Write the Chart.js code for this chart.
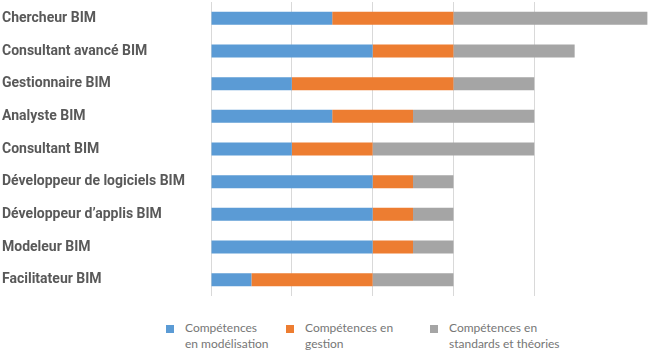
<!DOCTYPE html>
<html>
<head>
<meta charset="utf-8">
<script src="https://cdn.jsdelivr.net/npm/chart.js@4"></script>
<style>
  body { margin: 0; background: #fff; }
  #wrap { position: relative; width: 649px; height: 351px; }
  #box { position: absolute; left: 0; top: 0; width: 649px; height: 300px; }
  .leg { position: absolute; top: 320px; font-family: Lato, "Open Sans", sans-serif; font-size: 12px; line-height: 16px; color: #767676; }
  .leg i { position: absolute; left: -19px; top: 5px; width: 8px; height: 8px; }
</style>
</head>
<body>
<div id="wrap">
  <div id="box"><canvas id="ch1"></canvas></div>
  <div id="legend"></div>
</div>
<script>
// metiers BIM, de haut en bas
var categories = ['Chercheur BIM', 'Consultant avancé BIM', 'Gestionnaire BIM', 'Analyste BIM', 'Consultant BIM',
  'Développeur de logiciels BIM', 'Développeur d\u2019applis BIM', 'Modeleur BIM', 'Facilitateur BIM'];
var modelisation = [1.5, 2, 1, 1.5, 1, 2, 2, 2, 0.5];
var gestion      = [1.5, 1, 2, 1, 1, 0.5, 0.5, 0.5, 1.5];
var standards    = [2.4, 1.5, 1, 1.5, 2, 0.5, 0.5, 0.5, 1];
var seriesNames = [['Compétences', 'en modélisation'], ['Compétences en', 'gestion'], ['Compétences en', 'standards et théories']];
var colors = ['#5B9BD5', '#ED7D31', '#A5A5A5'];
var legendX = [185, 305, 449];

var ctx = document.getElementById('ch1').getContext('2d');
var chart = new Chart(ctx, {
  type: 'bar',
  data: {
    labels: categories,
    datasets: [
      { label: seriesNames[0].join(' '), data: modelisation, backgroundColor: colors[0] },
      { label: seriesNames[1].join(' '), data: gestion, backgroundColor: colors[1] },
      { label: seriesNames[2].join(' '), data: standards, backgroundColor: colors[2] }
    ]
  },
  options: {
    indexAxis: 'y',
    responsive: true,
    maintainAspectRatio: false,
    animation: false,
    layout: { padding: { left: 2, top: 2, right: 0, bottom: 4 } },
    datasets: { bar: { categoryPercentage: 1, barPercentage: 0.4 } },
    plugins: { legend: { display: false }, tooltip: { enabled: false } },
    scales: {
      x: {
        stacked: true,
        min: 0,
        max: 5.42,
        ticks: { display: false, stepSize: 1 },
        afterBuildTicks: function(s) { s.ticks = s.ticks.filter(function(t) { return Number.isInteger(t.value); }); },
        grid: { color: '#D9D9D9', drawTicks: false },
        border: { display: false }
      },
      y: {
        stacked: true,
        grid: { display: false },
        border: { display: false },
        afterFit: function(s) { s.width = 209; s.paddingTop = 0; s.paddingBottom = 0; },
        ticks: {
          crossAlign: 'far',
          padding: 0,
          color: '#595959',
          font: { family: 'Roboto, "Liberation Sans", sans-serif', size: 14, weight: 'bold' }
        }
      }
    }
  }
});

// legende en html (libelles sur deux lignes)
var html = '';
for (var i = 0; i < seriesNames.length; i++) {
  html += '<div class="leg" style="left:' + legendX[i] + 'px"><i style="background:' + colors[i] + '"></i>' +
    seriesNames[i][0] + '<br>' + seriesNames[i][1] + '</div>';
}
document.getElementById('legend').innerHTML = html;
</script>
</body>
</html>
